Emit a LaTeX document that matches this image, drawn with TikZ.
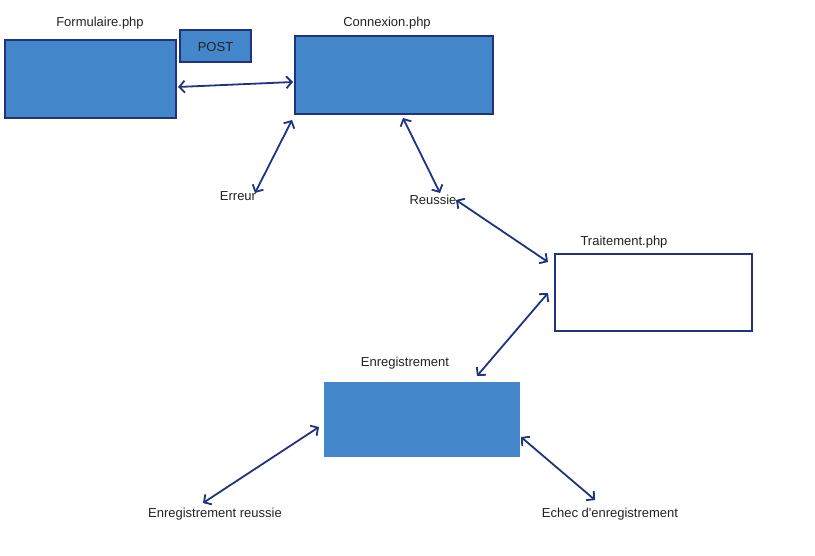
\documentclass[tikz,border=0pt]{standalone}
\usepackage{fontspec}
\setmainfont{Liberation Sans}[Ligatures=TeXOff]
\usetikzlibrary{arrows.meta}
\definecolor{boxfill}{HTML}{4386C9}
\definecolor{navy}{HTML}{1F3380}
\definecolor{txt}{HTML}{222222}
\tikzset{
  filledbox/.style={draw=navy, line width=2pt, fill=boxfill},
  plainbox/.style={draw=navy, line width=2pt, fill=white},
  bareblue/.style={fill=boxfill},
  lbl/.style={font=\fontsize{13pt}{15pt}\selectfont, text=txt, inner sep=0pt, yshift=-1.5pt},
  conn/.style={draw=navy, line width=1.8pt, {Straight Barb[length=5.5pt,width=12pt]}-{Straight Barb[length=5.5pt,width=12pt]}}
}
\begin{document}
\begin{tikzpicture}[x=1pt,y=-1pt]
\useasboundingbox (0,0) rectangle (815,556);
% boxes
\draw[filledbox] (5,40) rectangle (176,118);
\draw[filledbox] (180,30) rectangle (251,62);
\node[lbl] (post) at (215.5,46) {POST};
\draw[filledbox] (295,36) rectangle (493,114);
\draw[plainbox] (555,254) rectangle (752,331);
\fill[bareblue] (324,382) rectangle (520,457);
% labels
\node[lbl] (lform) at (100,22) {Formulaire.php};
\node[lbl] (lconn) at (387,22) {Connexion.php};
\node[lbl] (ltrait) at (624,241) {Traitement.php};
\node[lbl] (lenreg) at (405,362) {Enregistrement};
\node[lbl] (erreur) at (238,195) {Erreur};
\node[lbl] (reussie) at (433,198) {Reussie};
\node[lbl] (enrok) at (215,513) {Enregistrement reussie};
\node[lbl] (echec) at (610,513) {Echec d'enregistrement};
% connector endpoints
\coordinate (a1) at (178,87);  \coordinate (a2) at (293,82);
\coordinate (b1) at (292,120); \coordinate (b2) at (255,193);
\coordinate (c1) at (403,118); \coordinate (c2) at (440,193);
\coordinate (d1) at (456,200); \coordinate (d2) at (548,262);
\coordinate (e1) at (548,293); \coordinate (e2) at (477,376);
\coordinate (f1) at (319,427); \coordinate (f2) at (203,503);
\coordinate (g1) at (521,437); \coordinate (g2) at (595,500);
\draw[conn] (a1) -- (a2);
\draw[conn] (b1) -- (b2);
\draw[conn] (c1) -- (c2);
\draw[conn] (d1) -- (d2);
\draw[conn] (e1) -- (e2);
\draw[conn] (f1) -- (f2);
\draw[conn] (g1) -- (g2);
\end{tikzpicture}
\end{document}
